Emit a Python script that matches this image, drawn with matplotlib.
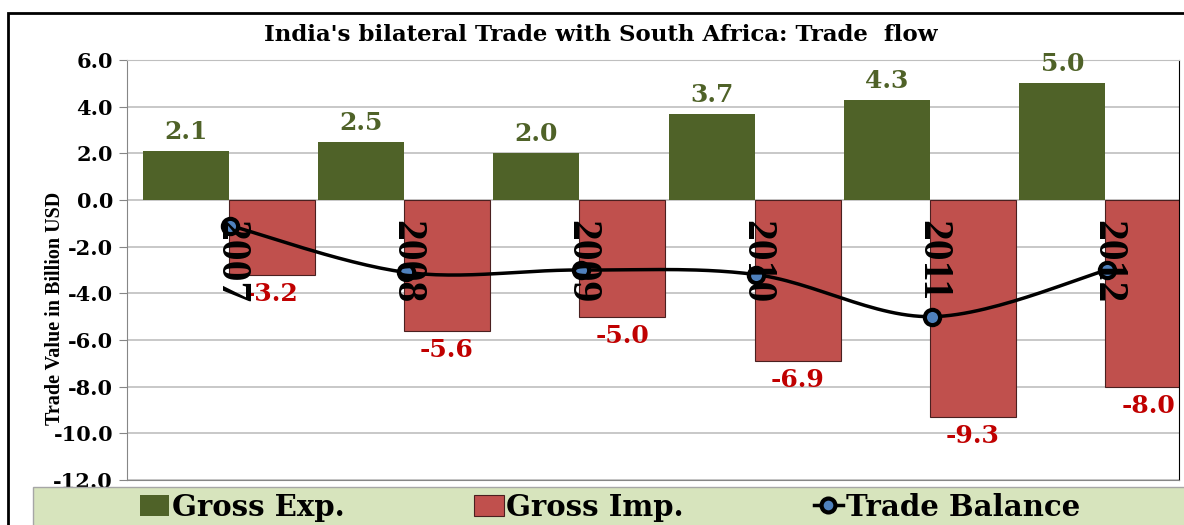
import numpy as np
import matplotlib.pyplot as plt
from matplotlib.patches import Rectangle, Patch
from matplotlib.lines import Line2D

# India - South Africa trade, billion USD
years = ["2007", "2008", "2009", "2010", "2011", "2012"]
exports = [2.1, 2.5, 2.0, 3.7, 4.3, 5.0]
imports = [-3.2, -5.6, -5.0, -6.9, -9.3, -8.0]
balance = [-1.1, -3.1, -3.0, -3.2, -5.0, -3.0]

green = "#4F6228"
red = "#C0504D"
serif = "DejaVu Serif"


def smooth(xs, ys, n=30):
    # excel-style smoothed line (cubic bezier, catmull-rom control points)
    p = np.column_stack([xs, ys]).astype(float)
    p = np.vstack([p[0], p, p[-1]])
    out = []
    for i in range(1, len(p) - 2):
        p0, p1, p2, p3 = p[i - 1], p[i], p[i + 1], p[i + 2]
        c1 = p1 + (p2 - p0) / 6
        c2 = p2 - (p3 - p1) / 6
        t = np.linspace(0, 1, n)[:, None]
        seg = (1 - t) ** 3 * p1 + 3 * (1 - t) ** 2 * t * c1 + 3 * (1 - t) * t ** 2 * c2 + t ** 3 * p2
        out.append(seg)
    out = np.vstack(out)
    return out[:, 0], out[:, 1]


fig = plt.figure(figsize=(11.84, 5.25), dpi=100)
W, H = 1184, 525
ax = fig.add_axes([127 / W, 45 / H, 1052 / W, 420 / H])

x = np.arange(len(years))
bw = 0.49
ax.bar(x - 0.41, exports, width=bw, align="edge", color=green, zorder=2)
ax.bar(x + 0.08, imports, width=bw, align="edge", color=red,
       edgecolor="#4A2020", linewidth=0.8, zorder=2)

# trade balance line
sx, sy = smooth(x + 0.09, balance)
ax.plot(sx, sy, color="black", lw=2.5, zorder=4)
ax.plot(x + 0.09, balance, "o", ms=11, mfc="#4F81BD", mec="black", mew=3, zorder=5)

# data labels
for i in range(len(years)):
    ax.text(x[i] - 0.165, exports[i] + 0.3, f"{exports[i]:.1f}", ha="center", va="bottom",
            color=green, fontsize=18, fontweight="bold", family=serif, zorder=6)
    ax.text(x[i] + 0.325, imports[i] - 0.3, f"{imports[i]:.1f}", ha="center", va="top",
            color="#C00000", fontsize=18, fontweight="bold", family=serif, zorder=6)
    ax.text(x[i] + 0.09, -0.85, years[i], rotation=270, ha="center", va="top",
            fontsize=30, fontweight="bold", family="Liberation Serif", color="black", zorder=6)

ax.set_xlim(-0.5, 5.5)
ax.set_ylim(-12, 6)
ax.set_yticks(np.arange(-12, 7, 2))
ax.set_yticklabels([f"{v:.1f}" for v in np.arange(-12, 7, 2)],
                   fontsize=15, fontweight="bold", family=serif)
ax.set_xticks([])
ax.yaxis.grid(True, color="#BFBFBF", lw=1.2, zorder=0)
ax.set_axisbelow(True)
ax.tick_params(axis="y", length=6, color="#868686", pad=4)
for s in ["left", "bottom", "top"]:
    ax.spines[s].set_color("#868686")
ax.spines["top"].set_color("#BFBFBF")
ax.spines["right"].set_color("black")

fig.text(55 / W, 1 - 308 / H, "Trade Value in Billion USD", rotation=90, ha="center", va="center",
         fontsize=14.5, fontweight="bold", family="Liberation Serif")
fig.text(601 / W, 1 - 35 / H, "India's bilateral Trade with South Africa: Trade  flow",
         ha="center", va="center", fontsize=16.5, fontweight="bold", family=serif)

# outer frame and legend strip
fig.patches.append(Rectangle((8 / W, -0.1), 1.2, 1 - 13 / H + 0.1, transform=fig.transFigure,
                             fill=False, edgecolor="black", lw=2))
fig.patches.append(Rectangle((33 / W, -0.1), 1.2, 38 / H + 0.1, transform=fig.transFigure,
                             facecolor="#D7E4BD", edgecolor="#A6A6A6", lw=1))

handles = [Patch(facecolor=green), Patch(facecolor=red, edgecolor="#4A2020", lw=0.8),
           Line2D([], [], color="black", lw=2.5, marker="o", ms=10, mfc="#4F81BD", mec="black", mew=3)]
fig.legend(handles, ["Gross Exp.", "Gross Imp.", "Trade Balance"], ncol=3, loc="center",
           bbox_to_anchor=(610 / W, 18 / H), frameon=False, columnspacing=4.45,
           handlelength=1.0, handletextpad=0.1,
           prop={"family": serif, "weight": "bold", "size": 21})

fig.savefig("out.png", dpi=100)
